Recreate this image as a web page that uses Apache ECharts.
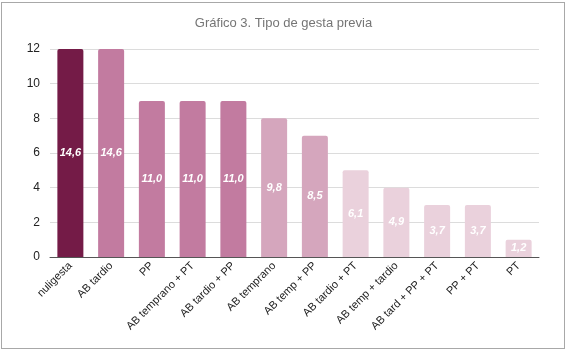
<!DOCTYPE html>
<html>
<head>
<meta charset="utf-8">
<script src="https://cdn.jsdelivr.net/npm/echarts@6/dist/echarts.min.js"></script>
<style>
  html, body { margin: 0; padding: 0; background: #fff; }
  #frame { position: absolute; left: 1px; top: 2px; width: 562px; height: 345px; border: 1px solid #a8a8a8; }
  #chart { position: absolute; left: 0; top: 0; width: 567px; height: 351px; }
</style>
</head>
<body>
<div id="frame"></div>
<div id="chart"></div>
<script>
const categories = ['nuligesta', 'AB tardio', 'PP', 'AB temprano + PT', 'AB tardio + PP', 'AB temprano',
  'AB temp + PP', 'AB tardio + PT', 'AB temp + tardio', 'AB tard + PP + PT', 'PP + PT', 'PT'];
const counts = [12, 12, 9, 9, 9, 8, 7, 5, 4, 3, 3, 1];
const percents = ['14,6', '14,6', '11,0', '11,0', '11,0', '9,8', '8,5', '6,1', '4,9', '3,7', '3,7', '1,2'];
const barColors = ['#741b47', '#c27ba0', '#c27ba0', '#c27ba0', '#c27ba0', '#d5a6bd',
  '#d5a6bd', '#ead1dc', '#ead1dc', '#ead1dc', '#ead1dc', '#ead1dc'];
const yTicks = [0, 2, 4, 6, 8, 10, 12];

const chart = echarts.init(document.getElementById('chart'));

chart.setOption({
  animation: false,
  title: {
    text: 'Gráfico 3. Tipo de gesta previa',
    left: 'center',
    top: 12,
    textStyle: { fontFamily: 'Liberation Sans', fontSize: 13, fontWeight: 'normal', color: '#757575' }
  },
  grid: { left: 50, right: 28, top: 49, bottom: 94 },
  xAxis: {
    type: 'category',
    data: categories,
    axisTick: { show: false },
    axisLine: { lineStyle: { color: '#555', width: 1 } },
    axisLabel: {
      interval: 0,
      rotate: 45,
      margin: 7,
      fontFamily: 'Liberation Sans',
      fontSize: 11,
      color: '#222'
    }
  },
  yAxis: {
    type: 'value',
    min: yTicks[0],
    max: yTicks[yTicks.length - 1],
    interval: 2,
    axisLine: { show: false },
    axisTick: { show: false },
    splitLine: { lineStyle: { color: '#dcdcdc' } },
    axisLabel: { margin: 10, fontFamily: 'Liberation Sans', fontSize: 12, color: '#222' }
  },
  series: [{
    type: 'bar',
    barWidth: 26,
    data: counts.map((v, i) => ({
      value: v,
      itemStyle: { color: barColors[i], borderRadius: [2, 2, 0, 0] }
    })),
    label: {
      show: true,
      position: 'inside',
      formatter: p => percents[p.dataIndex],
      fontFamily: 'Liberation Sans',
      fontSize: 11,
      fontStyle: 'italic',
      fontWeight: 'bold',
      color: '#fff'
    }
  }]
});
</script>
</body>
</html>
